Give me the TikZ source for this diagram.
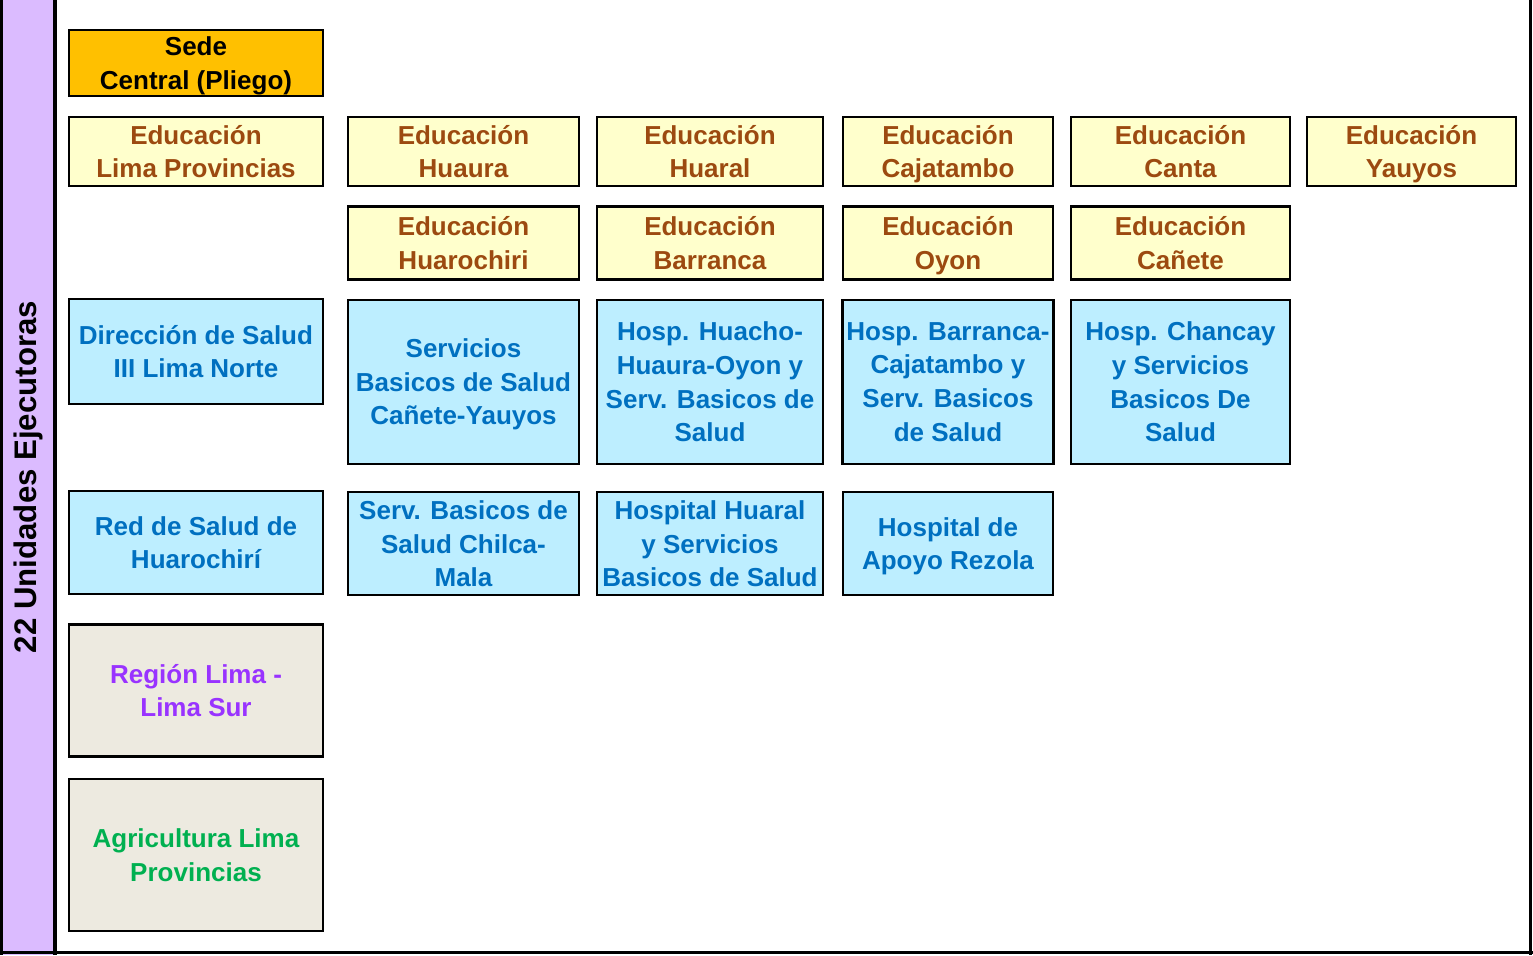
\documentclass[tikz,border=0pt]{standalone}
\usepackage{fontspec}
\setmainfont{Liberation Sans}
\usepackage{tikz}
\usetikzlibrary{positioning}
\definecolor{barPurple}{RGB}{219,187,255}
\definecolor{sedeFill}{RGB}{255,192,0}
\definecolor{eduFill}{RGB}{255,255,204}
\definecolor{eduText}{RGB}{156,74,16}
\definecolor{saludFill}{RGB}{189,238,255}
\definecolor{saludText}{RGB}{0,112,192}
\definecolor{otherFill}{RGB}{237,234,224}
\definecolor{regionText}{RGB}{153,51,255}
\definecolor{agriText}{RGB}{0,176,80}

\begin{document}
\begin{tikzpicture}[x=0.5pt,y=-0.5pt,
	box/.style={draw=black,line width=1.2pt,inner sep=2pt,align=center,text depth=0pt,font=\bfseries\fontsize{13}{16.8}\selectfont},
	sedebox/.style={box,fill=sedeFill,text=black},
	edu/.style={box,fill=eduFill,text=eduText},
	salud/.style={box,fill=saludFill,text=saludText},
	region/.style={box,fill=otherFill,text=regionText},
	agri/.style={box,fill=otherFill,text=agriText}]
	\useasboundingbox (0,0) rectangle (1533,955);
	% frame
	\fill[barPurple] (0,0) rectangle (55,955);
	\coordinate (barTL) at (1.5,0);
	\coordinate (barBL) at (1.5,955);
	\coordinate (barTR) at (55,0);
	\coordinate (barBR) at (55,955);
	\coordinate (frameTR) at (1530.5,0);
	\coordinate (frameBR) at (1530.5,955);
	\coordinate (frameBL) at (0,952.5);
	\coordinate (frameBE) at (1533,952.5);
	\draw[line width=1.5pt] (barTL)--(barBL);
	\draw[line width=2pt] (barTR)--(barBR);
	\draw[line width=1.5pt] (frameTR)--(frameBR);
	\draw[line width=1.2pt] (frameBL)--(frameBE);
	\node[rotate=90,font=\bfseries\fontsize{15.6}{18}\selectfont] (title) at (28.5,477) {22 Unidades Ejecutoras};
	
	% sede and first row
	\node[sedebox,minimum width=127pt,minimum height=33pt] (sede) at (196,63) {Sede\\Central (Pliego)};
	\node[edu,minimum width=127pt,minimum height=34.5pt] (eduLima) at (196,151.5) {Educación\\Lima Provincias};
	\node[edu,minimum width=115.5pt,minimum height=34.5pt] (eduHuaura) at (463.5,151.5) {Educación\\Huaura};
	\node[edu,minimum width=113pt,minimum height=34.5pt] (eduHuaral) at (710,151.5) {Educación\\Huaral};
	\node[edu,minimum width=105pt,minimum height=34.5pt] (eduCajatambo) at (948,151.5) {Educación\\Cajatambo};
	\node[edu,minimum width=109.5pt,minimum height=34.5pt] (eduCanta) at (1180.5,151.5) {Educación\\Canta};
	\node[edu,minimum width=104.5pt,minimum height=34.5pt] (eduYauyos) at (1411.5,151.5) {Educación\\Yauyos};
	
	% second row
	\node[edu,minimum width=115.5pt,minimum height=36.5pt,below=9pt of eduHuaura] (eduHuarochiri) {Educación\\Huarochiri};
	\node[edu,minimum width=113pt,minimum height=36.5pt,below=9pt of eduHuaral] (eduBarranca) {Educación\\Barranca};
	\node[edu,minimum width=105pt,minimum height=36.5pt,below=9pt of eduCajatambo] (eduOyon) {Educación\\Oyon};
	\node[edu,minimum width=109.5pt,minimum height=36.5pt,below=9pt of eduCanta] (eduCanete) {Educación\\Cañete};
	
	% salud
	\node[salud,minimum width=127pt,minimum height=52.5pt] (dirSalud) at (196,351.5) {Dirección de Salud\\III Lima Norte};
	\node[salud,minimum width=115.5pt,minimum height=82pt,below=9pt of eduHuarochiri] (sbsCanete) {Servicios\\Basicos de Salud\\Cañete-Yauyos};
	\node[salud,minimum width=113pt,minimum height=82pt,below=9pt of eduBarranca] (hospHuacho) {Hosp. Huacho-\\Huaura-Oyon y\\Serv. Basicos de\\Salud};
	\node[salud,minimum width=105pt,minimum height=82pt,below=9pt of eduOyon] (hospBarranca) {Hosp. Barranca-\\Cajatambo y\\Serv. Basicos\\de Salud};
	\node[salud,minimum width=109.5pt,minimum height=82pt,below=9pt of eduCanete] (hospChancay) {Hosp. Chancay\\y Servicios\\Basicos De\\Salud};
	
	\node[salud,minimum width=127pt,minimum height=51.5pt] (redHuarochiri) at (196,542.5) {Red de Salud de\\Huarochirí};
	\node[salud,minimum width=115.5pt,minimum height=51.5pt,below=13pt of sbsCanete] (sbsChilca) {Serv. Basicos de\\Salud Chilca-\\Mala};
	\node[salud,minimum width=113pt,minimum height=51.5pt,below=13pt of hospHuacho] (hospHuaral) {Hospital Huaral\\y Servicios\\Basicos de Salud};
	\node[salud,minimum width=105pt,minimum height=51.5pt,below=13pt of hospBarranca] (hospRezola) {Hospital de\\Apoyo Rezola};
	
	% otros
	\node[region,minimum width=127pt,minimum height=66pt,below=14pt of redHuarochiri] (regionSur) {Región Lima -\\Lima Sur};
	\node[agri,minimum width=127pt,minimum height=76pt,below=10pt of regionSur] (agriLima) {Agricultura Lima\\Provincias};
\end{tikzpicture}
\end{document}
